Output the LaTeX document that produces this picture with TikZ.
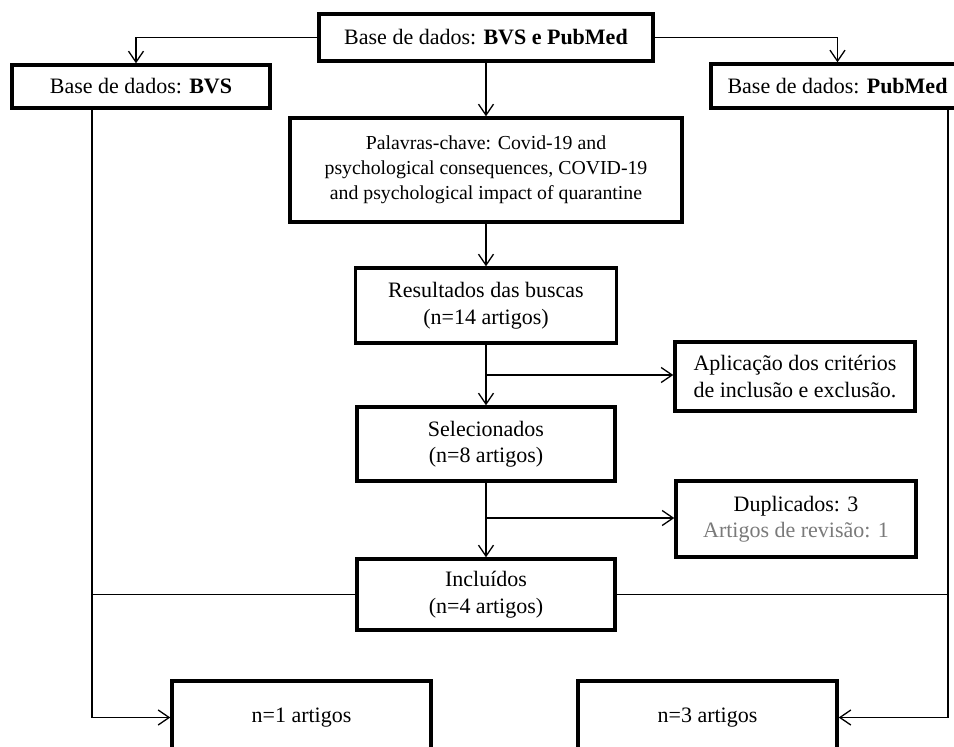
\documentclass[tikz,border=0pt]{standalone}
\usepackage{fontspec}
\setmainfont{Liberation Serif}
\usetikzlibrary{arrows.meta}
\definecolor{revgray}{HTML}{7A7A7A}
\begin{document}
\begin{tikzpicture}[x=1pt,y=-1pt,
  box/.style={draw=black, line width=3.4pt, rectangle, inner sep=0pt, align=center, font=\fontsize{22}{26.5}\selectfont},
  conn/.style={line width=1.3pt},
  arr/.style={conn, -{Straight Barb[length=11pt,width=15pt]}}]
\useasboundingbox (0,0) rectangle (954,747);
\clip (0,0) rectangle (954,747);
\fill[white] (0,0) rectangle (954,747);

\node[box, minimum width=334pt, minimum height=47pt] (top) at (486,37.5) {Base de dados: \textbf{BVS e PubMed}};
\node[box, minimum width=258pt, minimum height=43pt] (bvs) at (141,86.5) {Base de dados: \textbf{BVS}};
\node[box, minimum width=253pt, minimum height=44pt] (pub) at (837.5,86) {Base de dados: \textbf{PubMed}};
\node[box, minimum width=392pt, minimum height=104pt, font=\fontsize{19.8}{25}\selectfont] (pal) at (486,170) {Palavras-chave: Covid-19 and\\psychological consequences, COVID-19\\and psychological impact of quarantine};
\node[box, minimum width=261pt, minimum height=75pt] (res) at (486,305.5) {Resultados das buscas\\(n=14 artigos)};
\node[box, minimum width=240pt, minimum height=69pt] (apl) at (795,376.5) {Aplicação dos critérios\\de inclusão e exclusão.};
\node[box, minimum width=258pt, minimum height=74pt] (sel) at (486,444) {Selecionados\\(n=8 artigos)};
\node[box, minimum width=240pt, minimum height=76pt] (dup) at (796,519) {Duplicados: 3\\\textcolor{revgray}{Artigos de revisão: 1}};
\node[box, minimum width=258pt, minimum height=71pt] (inc) at (486,594.5) {Incluídos\\(n=4 artigos)};
\node[box, minimum width=259pt, minimum height=73pt] (n1) at (301.5,717.5) {n=1 artigos};
\node[box, minimum width=259pt, minimum height=73pt] (n3) at (707.5,717.5) {n=3 artigos};

\coordinate (lx) at (92,0);
\coordinate (rx) at (948,0);
\coordinate (b1) at (486,375);
\coordinate (b2) at (486,518);

% top branches
\draw[arr] (top.west) -| ([xshift=-5pt]bvs.north);
\draw[arr] (top.east) -| (pub.north);
% central column
\draw[arr] (top.south) -- (pal.north);
\draw[arr] (pal.south) -- (res.north);
\draw[arr] (res.south) -- (sel.north);
\draw[arr] (b1) -- (b1 -| apl.west);
\draw[arr] (sel.south) -- (inc.north);
\draw[arr] (b2) -- (b2 -| dup.west);
% side columns
\draw[arr] (bvs.south -| lx) |- (n1.west);
\draw[arr] (pub.south -| rx) |- (n3.east);
\draw[conn] (inc.west) -- (inc.west -| lx);
\draw[conn] (inc.east) -- (inc.east -| rx);
\end{tikzpicture}
\end{document}
